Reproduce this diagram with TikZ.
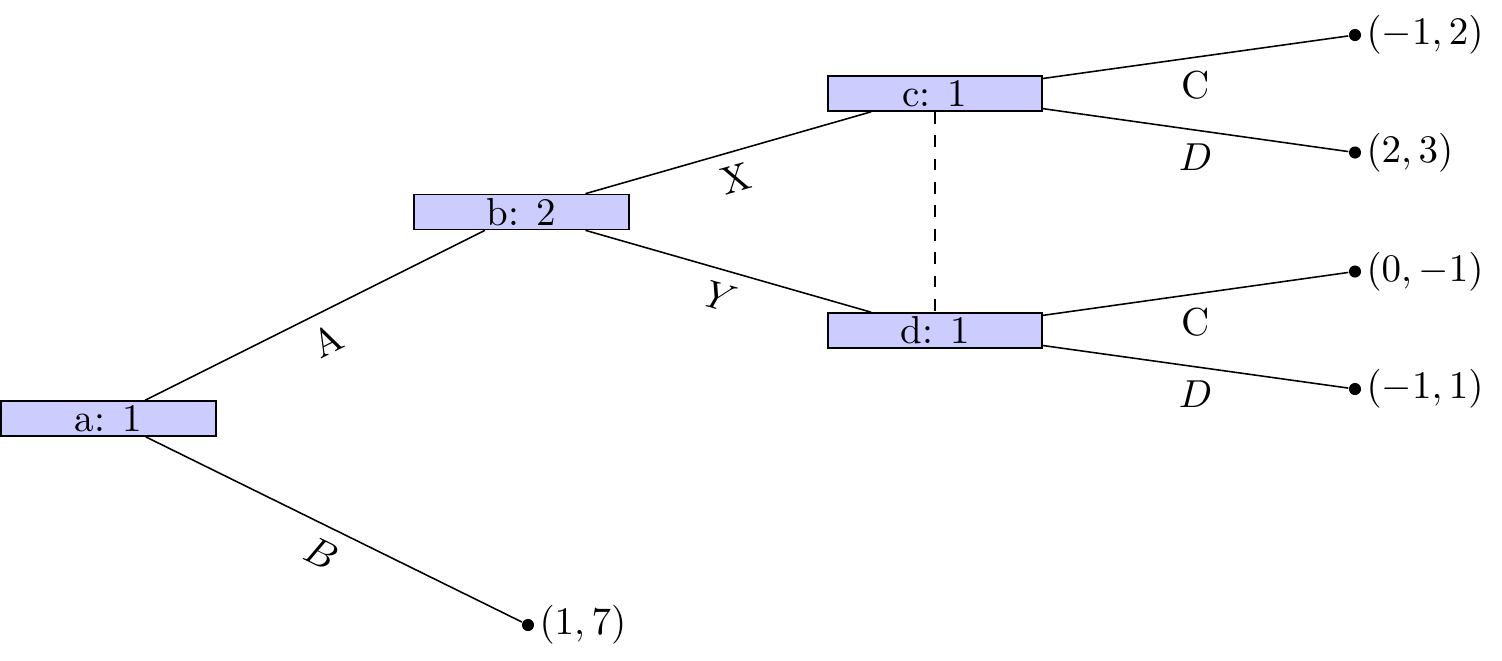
\documentclass[tikz,border=0pt]{standalone}
\begin{document}
\begin{tikzpicture}[x=0.25641pt,y=-0.25641pt,
  decision/.style={draw, fill=blue!20, minimum width=55pt, minimum height=9pt, inner sep=0pt, line width=0.4pt},
  leaf/.style={circle, fill=black, inner sep=0pt, minimum size=3.1pt},
  conn/.style={line width=0.4pt},
  slab/.style={below, sloped},
  flab/.style={below}]
\useasboundingbox (0,0) rectangle (1502,660);
\node[decision] (a) at (108.5,418.5) {a: 1};
\node[decision] (b) at (521.5,212) {b: 2};
\node[decision] (c) at (935,93.5) {c: 1};
\node[decision] (d) at (935,330.5) {d: 1};
\node[leaf, label={[inner sep=1pt]right:$(1,7)$}] (l1) at (528,625) {};
\node[leaf, label={[inner sep=1pt]right:$(-1,2)$}] (l2) at (1355,35) {};
\node[leaf, label={[inner sep=1pt]right:$(2,3)$}] (l3) at (1355,152.5) {};
\node[leaf, label={[inner sep=1pt]right:$(0,-1)$}] (l4) at (1355,271.5) {};
\node[leaf, label={[inner sep=1pt]right:$(-1,1)$}] (l5) at (1355,389) {};
\draw[conn] (a) -- node[slab] {A} (b);
\draw[conn] (a) -- node[slab] {$B$} (l1);
\draw[conn] (b) -- node[slab] {X} (c);
\draw[conn] (b) -- node[slab] {$Y$} (d);
\draw[conn] (c) -- node[flab] {C} (l2);
\draw[conn] (c) -- node[flab] {$D$} (l3);
\draw[conn] (d) -- node[flab] {C} (l4);
\draw[conn] (d) -- node[flab] {$D$} (l5);
\draw[conn, dashed] (c) -- (d);
\end{tikzpicture}
\end{document}
